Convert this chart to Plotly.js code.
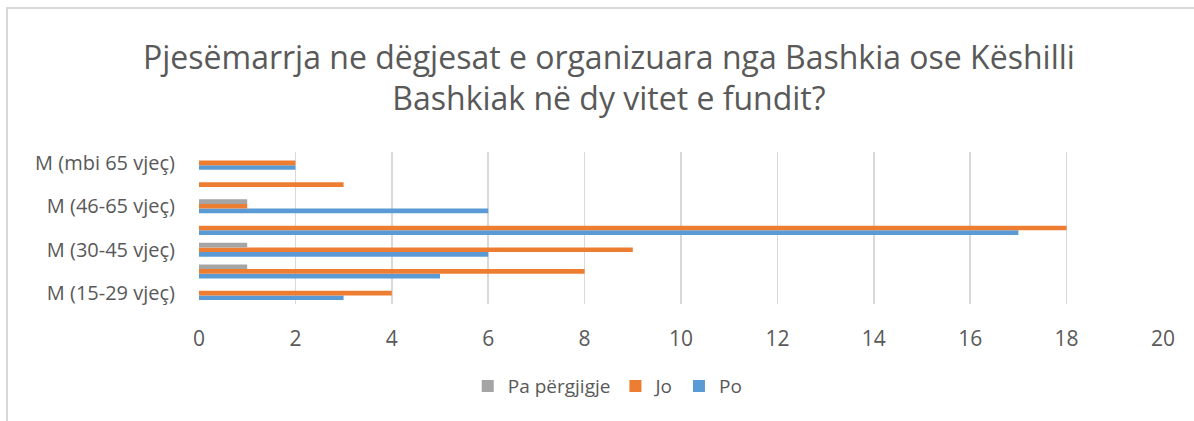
<!DOCTYPE html>
<html>
<head>
<meta charset="utf-8">
<script src="https://cdn.plot.ly/plotly-3.0.1.min.js"></script>
<style>
  html, body { margin: 0; padding: 0; background: #fff; }
  #frame { position: absolute; left: 6px; top: 7px; width: 1188px; height: 414px;
           border-top: 2px solid #D9D9D9; border-left: 2px solid #D9D9D9; box-sizing: border-box; }
  #chart { position: absolute; left: 0; top: 0; width: 1194px; height: 421px; }
</style>
</head>
<body>
<div id="frame"></div>
<div id="chart"></div>
<script>
const categories = [
  "M (15-29 vjeç)", "F (15-29 vjeç)",
  "M (30-45 vjeç)", "F (30-45 vjeç)",
  "M (46-65 vjeç)", "F (46-65 vjeç)",
  "M (mbi 65 vjeç)"
];
const shownLabels = ["M (15-29 vjeç)", "M (30-45 vjeç)", "M (46-65 vjeç)", "M (mbi 65 vjeç)"];
const po = [3, 5, 6, 17, 6, 0, 2];
const jo = [4, 8, 9, 18, 1, 3, 2];
const paPergjigje = [0, 1, 1, 0, 1, 0, 0];
const xTicks = [0, 2, 4, 6, 8, 10, 12, 14, 16, 18, 20];

const font = "Open Sans, Noto Sans, sans-serif";
const textColor = "#595959";

const traces = [
  { name: "Po", x: po, y: categories, type: "bar", orientation: "h", marker: { color: "#5B9BD5" } },
  { name: "Jo", x: jo, y: categories, type: "bar", orientation: "h", marker: { color: "#ED7D31" } },
  { name: "Pa përgjigje", x: paPergjigje, y: categories, type: "bar", orientation: "h", marker: { color: "#A5A5A5" } }
];

const layout = {
  width: 1194, height: 421,
  paper_bgcolor: "rgba(0,0,0,0)", plot_bgcolor: "rgba(0,0,0,0)",
  font: { family: font, color: textColor, size: 16 },
  title: {
    text: "Pjesëmarrja ne dëgjesat e organizuara nga Bashkia ose Këshilli<br>Bashkiak në dy vitet e fundit?",
    font: { family: font, size: 32, color: textColor },
    x: 0.51, xanchor: "center", xref: "container",
    y: 0.837, yanchor: "middle", yref: "container"
  },
  margin: { l: 199, r: 31, t: 152, b: 117, autoexpand: false },
  barmode: "group",
  bargap: 0.36,
  bargroupgap: 0,
  hovermode: false,
  xaxis: {
    range: [0, 20], tickvals: xTicks, ticktext: xTicks.map(String),
    showgrid: true, gridcolor: "#D9D9D9", gridwidth: 1.5,
    zeroline: false, showline: false, ticks: "",
    ticklabelstandoff: 20, automargin: false,
    tickfont: { family: font, size: 21, color: textColor }
  },
  yaxis: {
    type: "category", categoryorder: "array", categoryarray: categories,
    tickvals: shownLabels, ticktext: shownLabels,
    showgrid: false, zeroline: false, showline: false, ticks: "",
    ticklabelstandoff: 23, automargin: false,
    tickfont: { family: font, size: 20, color: textColor }
  },
  showlegend: true,
  legend: {
    orientation: "h", traceorder: "reversed",
    x: 0.424, xanchor: "center",
    y: -0.54, yanchor: "middle",
    itemwidth: 30,
    font: { family: font, size: 19, color: textColor }
  }
};

Plotly.newPlot("chart", traces, layout, { displayModeBar: false, staticPlot: true });
</script>
</body>
</html>
